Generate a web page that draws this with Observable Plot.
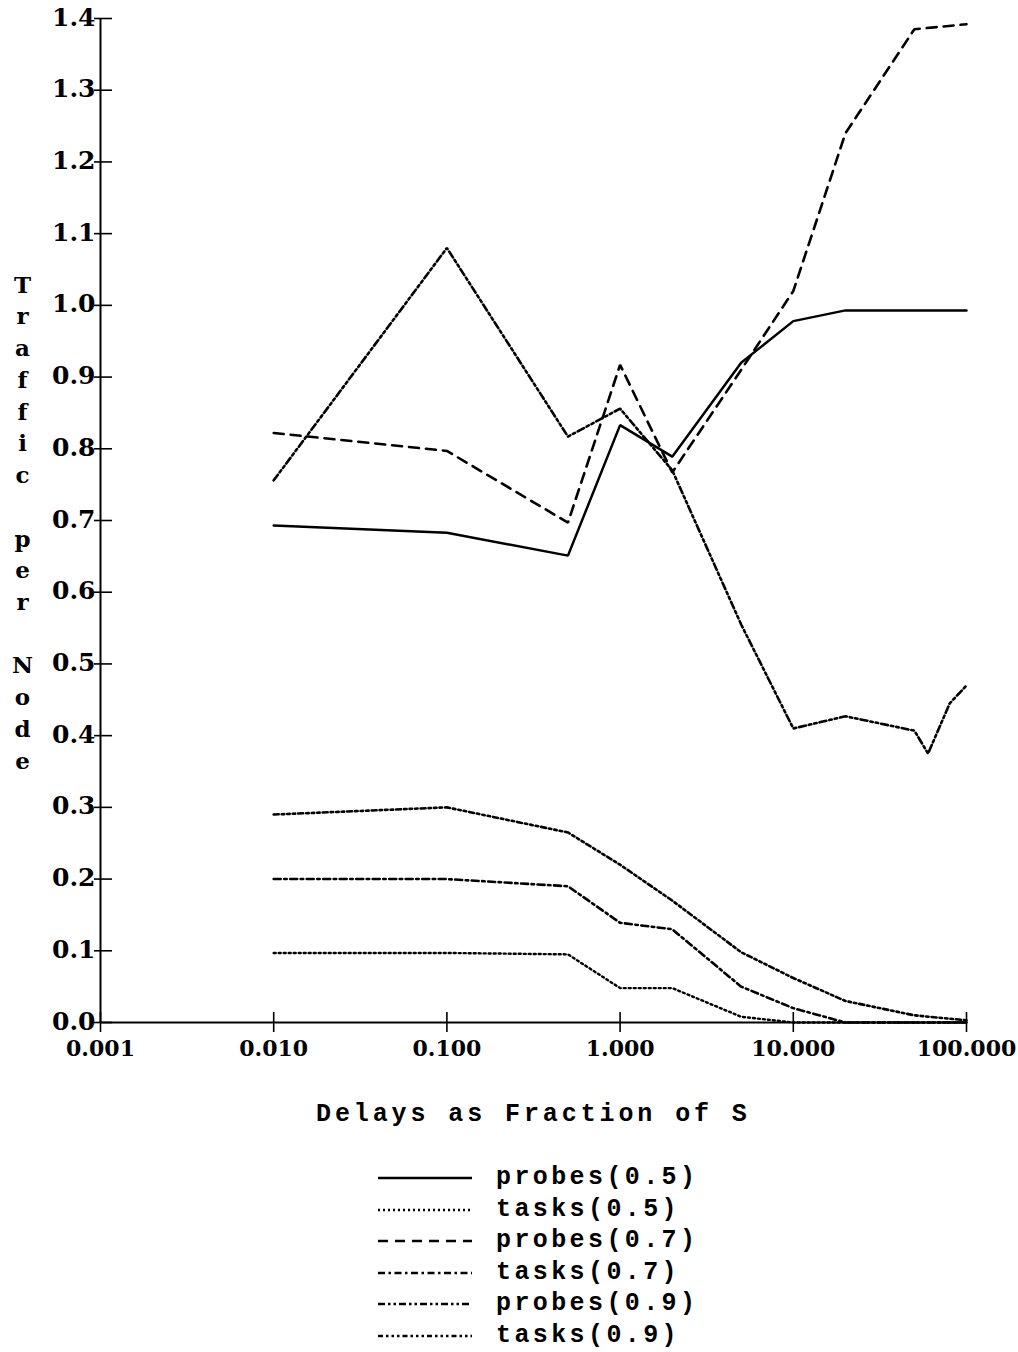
<!DOCTYPE html>
<html>
<head>
<meta charset="utf-8">
<script src="https://cdn.jsdelivr.net/npm/d3@7"></script>
<script src="https://cdn.jsdelivr.net/npm/@observablehq/plot@0.6"></script>
<style>
  body { margin: 0; background: #fff; }
  #wrap { position: relative; width: 1018px; height: 1352px; background: #fff; }
  .mono { font-family: "Liberation Mono", "DejaVu Sans Mono", monospace; font-size: 25px; font-weight: bold; letter-spacing: 3.4px; color: #000; white-space: pre; }
  #xtitle { position: absolute; left: 316px; top: 1100px; line-height: 30px; letter-spacing: 3.9px; }
  .row { position: absolute; left: 0; height: 32px; width: 1018px; }
  .row svg { position: absolute; left: 376px; top: 0; }
  .row span { position: absolute; left: 496px; top: 0; line-height: 32px; }
</style>
</head>
<body>
<div id="wrap"></div>
<script>
// Delay values (fraction of S) at which the simulations were run
const delays = [0.01, 0.1, 0.5, 1, 2, 5, 10, 20, 50, 100];
const delays09 = [0.01, 0.1, 0.5, 1, 2, 5, 10, 20, 50, 60, 80, 100];

// Traffic per node for each series
const probes05 = [0.693, 0.683, 0.651, 0.833, 0.789, 0.92, 0.978, 0.993, 0.993, 0.993];
const tasks05  = [0.097, 0.097, 0.095, 0.048, 0.048, 0.008, 0.0, 0.0, 0.0, 0.0];
const probes07 = [0.822, 0.797, 0.697, 0.917, 0.767, 0.91, 1.02, 1.24, 1.385, 1.392];
const tasks07  = [0.20, 0.20, 0.19, 0.139, 0.13, 0.05, 0.02, 0.0, 0.0, 0.0];
const probes09 = [0.756, 1.08, 0.817, 0.856, 0.77, 0.555, 0.41, 0.427, 0.407, 0.375, 0.445, 0.47];
const tasks09  = [0.29, 0.30, 0.265, 0.22, 0.17, 0.098, 0.062, 0.03, 0.01, 0.003];

const seriesNames = ["probes(0.5)", "tasks(0.5)", "probes(0.7)", "tasks(0.7)", "probes(0.9)", "tasks(0.9)"];
const xTicks = [0.001, 0.01, 0.1, 1, 10, 100];
const yTicks = [0, 0.1, 0.2, 0.3, 0.4, 0.5, 0.6, 0.7, 0.8, 0.9, 1.0, 1.1, 1.2, 1.3, 1.4];
const xTitle = "Delays as Fraction of S";
const yTitle = "Traffic per Node";

// line style per series
const styles = [
  {dash: null, width: 2.5},
  {dash: "2 3", width: 2.4},
  {dash: "10 7", width: 2.6},
  {dash: "7 3.5 2.5 3.5", width: 2.6},
  {dash: "7 3 2.5 3 2.5 3", width: 2.6},
  {dash: "5 3 2.5 3 2.5 3 2.5 3", width: 2.6}
];

const seriesData = [
  [delays, probes05], [delays, tasks05], [delays, probes07],
  [delays, tasks07], [delays09, probes09], [delays, tasks09]
].map(([xs, ys], i) => xs.map((x, j) => ({series: seriesNames[i], x, y: ys[j]})));

const serif = "'DejaVu Serif', serif";

const chart = Plot.plot({
  width: 1018,
  height: 1070,
  marginLeft: 100,
  marginRight: 52,
  marginTop: 18,
  marginBottom: 48,
  x: {type: "log", domain: [0.001, 100]},
  y: {domain: [0, 1.4]},
  style: {background: "white", color: "black"},
  marks: [
    // ticks crossing the axes
    Plot.axisY({ticks: yTicks, tickSize: 18, dx: 12, fill: "none", strokeWidth: 1.6, label: null}),
    Plot.axisY({ticks: yTicks, tickSize: 0, tickPadding: 5, tickFormat: ".1f",
      fontSize: 25, fontFamily: serif, fontWeight: "bold", dy: -1, letterSpacing: -0.5, label: null}),
    Plot.axisX({ticks: xTicks, tickSize: 20, dy: -10, fill: "none", strokeWidth: 1.6, label: null}),
    Plot.axisX({ticks: xTicks, tickSize: 0, tickPadding: 18, tickFormat: ".3f",
      fontSize: 22, fontFamily: serif, fontWeight: "bold", letterSpacing: -1.8, label: null}),
    // axis lines
    Plot.ruleY([0], {stroke: "black", strokeWidth: 2}),
    Plot.ruleX([0.001], {stroke: "black", strokeWidth: 2}),
    // vertical, letter-stacked y title
    Plot.text([yTitle], {
      frameAnchor: "left", dx: -78,
      text: d => d.split("").join("\n"),
      fontSize: 23, fontFamily: serif, fontWeight: "bold", lineHeight: 1.38, textAnchor: "middle"
    }),
    // data series
    ...seriesData.map((data, i) => Plot.line(data, {
      x: "x", y: "y",
      stroke: "black",
      strokeWidth: styles[i].width,
      strokeDasharray: styles[i].dash,
      strokeLinejoin: "miter"
    }))
  ]
});

const wrap = document.getElementById("wrap");
wrap.appendChild(chart);

const xt = document.createElement("div");
xt.id = "xtitle";
xt.className = "mono";
xt.textContent = xTitle;
wrap.appendChild(xt);

// legend
seriesNames.forEach((name, i) => {
  const row = document.createElement("div");
  row.className = "row mono";
  row.style.top = (1178 + 31.5 * i - 16) + "px";
  const svg = d3.create("svg").attr("width", 100).attr("height", 32);
  svg.append("line")
    .attr("x1", 2).attr("x2", 96).attr("y1", 16).attr("y2", 16)
    .attr("stroke", "black")
    .attr("stroke-width", styles[i].width)
    .attr("stroke-dasharray", styles[i].dash);
  row.appendChild(svg.node());
  const label = document.createElement("span");
  label.textContent = name;
  row.appendChild(label);
  wrap.appendChild(row);
});
</script>
</body>
</html>
